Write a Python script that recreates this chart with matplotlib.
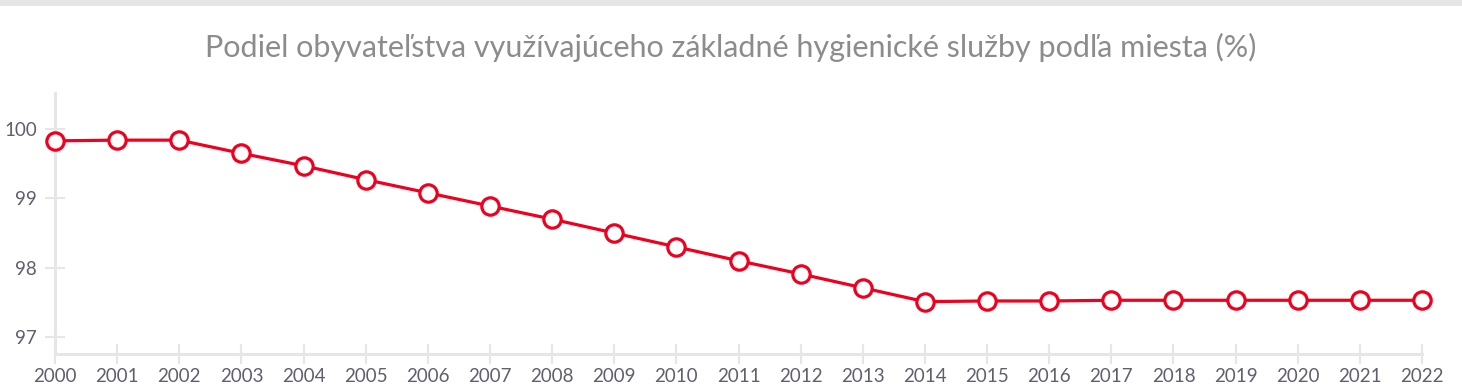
import numpy as np
import matplotlib.pyplot as plt
from matplotlib.patches import Rectangle

years = list(range(2000, 2023))
values = [99.83, 99.84, 99.84, 99.65, 99.47, 99.27, 99.08, 98.89, 98.70, 98.50,
          98.30, 98.10, 97.91, 97.71, 97.51, 97.52, 97.52, 97.53, 97.53, 97.53,
          97.53, 97.53, 97.53]
yticks = [97, 98, 99, 100]
title = "Podiel obyvateľstva využívajúceho základné hygienické služby podľa miesta (%)"

plt.rcParams['font.family'] = ['Lato', 'DejaVu Sans']

fig = plt.figure(figsize=(14.62, 3.92), dpi=100)
ax = fig.add_axes([55/1462, 38/392, (1422-55)/1462, (354-93)/392])

fig.add_artist(Rectangle((0, 1 - 6/392), 1, 6/392, transform=fig.transFigure,
                         color='#e6e6e6', lw=0))

ax.plot(years, values, color='#f0001e', lw=2.3, marker='o', markersize=12.5,
        markerfacecolor='white', markeredgecolor='#f0001e', markeredgewidth=2.3,
        clip_on=False, zorder=5)

ax.set_xlim(2000, 2022)
ax.set_ylim(96.755, 100.52)
ax.set_xticks(years)
ax.set_yticks(yticks)
ax.set_xticklabels([str(y) for y in years])
ax.set_yticklabels([str(y) for y in yticks])

for s in ['top', 'right']:
    ax.spines[s].set_visible(False)
for s in ['left', 'bottom']:
    ax.spines[s].set_color('#e6e6e6')
    ax.spines[s].set_linewidth(2.2)

ax.tick_params(axis='both', direction='inout', length=14, width=1.5, color='#e6e6e6',
               labelcolor='#5f5f6e', labelsize=13.5)
ax.tick_params(axis='x', pad=3)
ax.tick_params(axis='y', pad=6)

fig.text(0.5, 1 - 47/392, title, ha='center', va='center', fontsize=22, color='#8c8c8c')

fig.savefig('out.png', dpi=100)
